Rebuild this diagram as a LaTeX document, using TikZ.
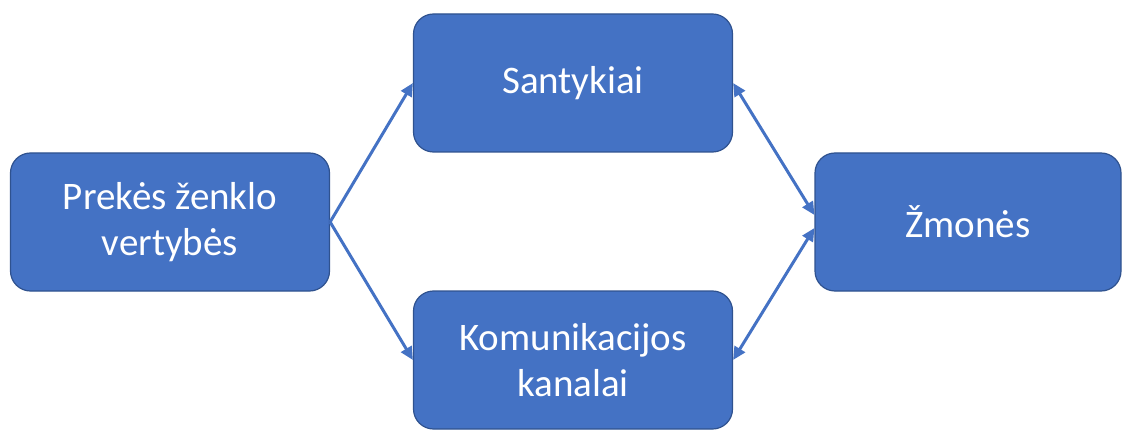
\documentclass[tikz,border=0pt]{standalone}
\usepackage{fontspec}
\setmainfont{Carlito}
\usetikzlibrary{arrows.meta}
\definecolor{boxfill}{HTML}{4472C4}
\definecolor{boxline}{HTML}{2F528F}
\begin{document}
\begin{tikzpicture}[x=1pt,y=-1pt,
  block/.style={draw=boxline,line width=1.2pt,fill=boxfill,rounded corners=20pt,
    minimum width=319pt,minimum height=138pt,inner sep=0pt,
    text=white,font=\fontsize{39}{46}\selectfont,align=center},
  tip/.style={Triangle[length=13pt,width=12pt]},
  link/.style={draw=boxfill,line width=3pt,-{Triangle[length=13pt,width=12pt]}},
  dlink/.style={draw=boxfill,line width=3pt,{Triangle[length=13pt,width=12pt]}-{Triangle[length=13pt,width=12pt]}}]
\useasboundingbox (0,0) rectangle (1123,430);
\node[block] (pv) at (170,222) {Prekės ženklo\\vertybės};
\node[block] (san) at (573,83) {Santykiai};
\node[block] (kom) at (573,360) {Komunikacijos\\kanalai};
\node[block,minimum width=306pt] (zm) at (968,222) {Žmonės};
\draw[link] (pv.east) -- (san.west);
\draw[link] (pv.east) -- (kom.west);
\draw[dlink] (san.east) -- ([yshift=7pt]zm.west);
\draw[dlink] (kom.east) -- ([yshift=-6pt]zm.west);
\end{tikzpicture}
\end{document}
